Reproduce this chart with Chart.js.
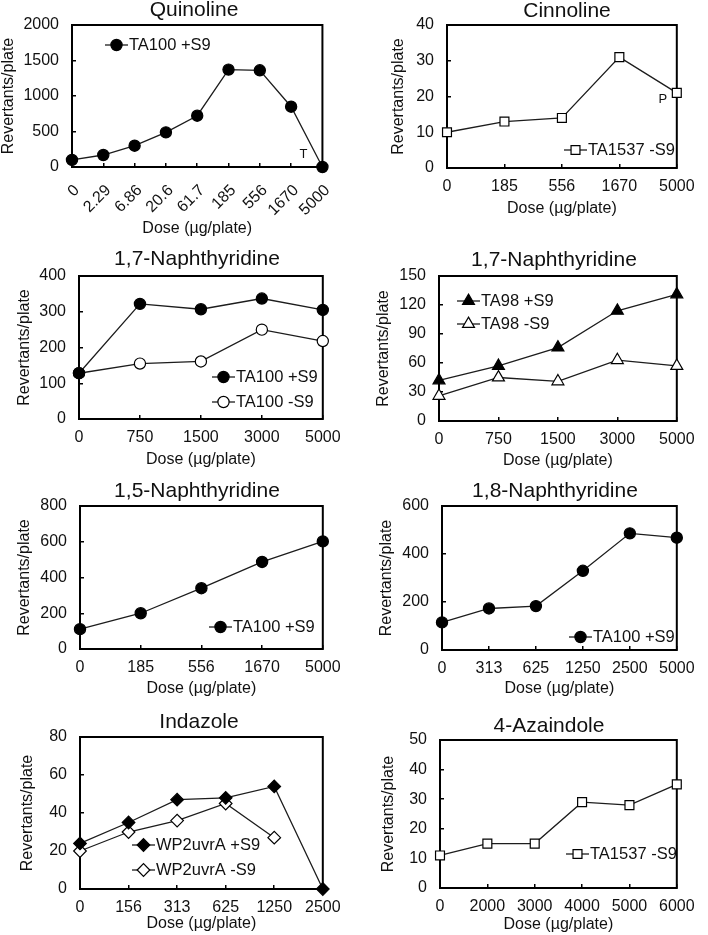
<!DOCTYPE html>
<html lang="en">
<head>
<meta charset="UTF-8">
<script src="https://cdn.jsdelivr.net/npm/chart.js@4.4.0/dist/chart.umd.min.js"></script>
<title>Revertants per plate</title>
<style>
  body { margin: 0; background: #fff; }
  #wrap { position: relative; width: 708px; height: 935px; overflow: hidden; background: #fff; }
  #wrap canvas { position: absolute; }
</style>
</head>
<body>
<div id="wrap"></div>
<script>
// ---- values ----
var quinolineDoses = ['0', '2.29', '6.86', '20.6', '61.7', '185', '556', '1670', '5000'];
var quinolineTA100S9 = [99, 169, 300, 488, 722, 1372, 1362, 849, 0];

var cinnolineDoses = ['0', '185', '556', '1670', '5000'];
var cinnolineTA1537 = [10, 13, 14, 31, 21];

var n17Doses = ['0', '750', '1500', '3000', '5000'];
var n17TA100Plus = [128, 322, 307, 337, 305];
var n17TA100Minus = [128, 155, 161, 250, 218];
var n17TA98Plus = [42, 57, 76, 114, 131];
var n17TA98Minus = [26, 45, 41, 63, 57];

var n15Doses = ['0', '185', '556', '1670', '5000'];
var n15TA100S9 = [111, 200, 340, 487, 602];

var n18Doses = ['0', '313', '625', '1250', '2500', '5000'];
var n18TA100S9 = [115, 173, 183, 330, 486, 468];

var indazoleDoses = ['0', '156', '313', '625', '1250', '2500'];
var indazolePlus = [24, 35, 47, 48, 54, 0];
var indazoleMinus = [20, 30, 36, 45, 27, null];

var azaDoses = ['0', '2000', '3000', '4000', '5000', '6000'];
var azaTA1537 = [11, 15, 15, 29, 28, 35];

// ---- panels (box = plot frame in page pixels) ----
var panels = [
  { title: 'Quinoline', labels: quinolineDoses, yMax: 2000, yStep: 500, rotate: 45, xPad: 18, xShift: 5,
    sets: [{ label: 'TA100 +S9', data: quinolineTA100S9, marker: 'circle', filled: true }],
    box: [72, 25, 329, 167], titleX: 194, titleY: 10, yTitleX: 9, xTitleY: 229,
    legend: { x: 105, y: 45, gap: 0 }, notes: [{ at: '5000', v: 0, text: 'T', dx: -19, dy: -13 }] },
  { title: 'Cinnoline', labels: cinnolineDoses, yMax: 40, yStep: 10,
    sets: [{ label: 'TA1537 -S9', data: cinnolineTA1537, marker: 'rect', filled: false }],
    box: [447, 25, 687, 168], titleX: 567, titleY: 11, yTitleX: 399, xTitleY: 209,
    legend: { x: 564, y: 150, gap: 0 }, notes: [{ at: '5000', v: 21, text: 'P', dx: -14, dy: 6 }] },
  { title: '1,7-Naphthyridine', labels: n17Doses, yMax: 400, yStep: 100,
    sets: [{ label: 'TA100 +S9', data: n17TA100Plus, marker: 'circle', filled: true },
           { label: 'TA100 -S9', data: n17TA100Minus, marker: 'circle', filled: false }],
    box: [79, 276, 329, 419], titleX: 197, titleY: 259, yTitleX: 25, xTitleY: 460,
    legend: { x: 212, y: 377, gap: 25 } },
  { title: '1,7-Naphthyridine', labels: n17Doses, yMax: 150, yStep: 30,
    sets: [{ label: 'TA98 +S9', data: n17TA98Plus, marker: 'triangle', filled: true },
           { label: 'TA98 -S9', data: n17TA98Minus, marker: 'triangle', filled: false }],
    box: [439, 276, 689, 421], titleX: 554, titleY: 260, yTitleX: 384, xTitleY: 461,
    legend: { x: 457, y: 301, gap: 23 } },
  { title: '1,5-Naphthyridine', labels: n15Doses, yMax: 800, yStep: 200,
    sets: [{ label: 'TA100 +S9', data: n15TA100S9, marker: 'circle', filled: true }],
    box: [80, 506, 329, 649], titleX: 197, titleY: 491, yTitleX: 25, xTitleY: 689,
    legend: { x: 209, y: 627, gap: 0 } },
  { title: '1,8-Naphthyridine', labels: n18Doses, yMax: 600, yStep: 200,
    sets: [{ label: 'TA100 +S9', data: n18TA100S9, marker: 'circle', filled: true }],
    box: [442, 506, 687, 650], titleX: 555, titleY: 491, yTitleX: 387, xTitleY: 689,
    legend: { x: 569, y: 637, gap: 0 } },
  { title: 'Indazole', labels: indazoleDoses, yMax: 80, yStep: 20,
    sets: [{ label: 'WP2uvrA +S9', data: indazolePlus, marker: 'rectRot', filled: true },
           { label: 'WP2uvrA -S9', data: indazoleMinus, marker: 'rectRot', filled: false }],
    box: [80, 737, 329, 889], titleX: 199, titleY: 722, yTitleX: 28, xTitleY: 924,
    legend: { x: 132, y: 845, gap: 25 } },
  { title: '4-Azaindole', labels: azaDoses, yMax: 50, yStep: 10,
    sets: [{ label: 'TA1537 -S9', data: azaTA1537, marker: 'rect', filled: false }],
    box: [440, 740, 689, 888], titleX: 549, titleY: 726, yTitleX: 389, xTitleY: 925,
    legend: { x: 566, y: 854, gap: 0 } }
];

var FONT = '"Liberation Sans", Arial, sans-serif';
Chart.defaults.font.family = FONT;
Chart.defaults.color = '#111';

var markerSize = { circle: 5.6, rect: 6.3, triangle: 6.9, rectRot: 6.3 };

function makeDataset(s) {
  return {
    label: s.label,
    data: s.data,
    borderColor: '#1c1c1c',
    borderWidth: 1.3,
    pointStyle: s.marker,
    pointRadius: markerSize[s.marker],
    pointHoverRadius: markerSize[s.marker],
    pointBackgroundColor: s.filled ? '#000' : '#fff',
    pointBorderColor: '#000',
    pointBorderWidth: 1.2,
    tension: 0,
    clip: false,
    spanGaps: false
  };
}

// frame round the plot area
var framePlugin = {
  id: 'frame',
  beforeDatasetsDraw: function (chart) {
    var a = chart.chartArea, ctx = chart.ctx;
    ctx.save();
    ctx.strokeStyle = '#000';
    ctx.lineWidth = 2;
    ctx.strokeRect(a.left, a.top, a.right - a.left, a.bottom - a.top);
    ctx.restore();
  }
};

var panelTitle = {
  id: 'panelTitle',
  afterDraw: function (chart, args, o) {
    var ctx = chart.ctx;
    ctx.save();
    ctx.font = '21px ' + FONT;
    ctx.fillStyle = '#111';
    ctx.textAlign = 'center';
    ctx.textBaseline = 'middle';
    ctx.fillText(o.text, o.x, o.y);
    ctx.restore();
  }
};

// excel-like legend: short line, marker, label
var sampleLegend = {
  id: 'sampleLegend',
  afterDraw: function (chart, args, o) {
    var ctx = chart.ctx;
    chart.data.datasets.forEach(function (ds, i) {
      var x = o.x, y = o.y + i * o.gap;
      ctx.save();
      ctx.strokeStyle = ds.borderColor;
      ctx.lineWidth = ds.borderWidth;
      ctx.beginPath();
      ctx.moveTo(x, y);
      ctx.lineTo(x + 23, y);
      ctx.stroke();
      ctx.fillStyle = ds.pointBackgroundColor;
      ctx.strokeStyle = ds.pointBorderColor;
      ctx.lineWidth = ds.pointBorderWidth;
      Chart.helpers.drawPoint(ctx, { pointStyle: ds.pointStyle, radius: ds.pointRadius, borderWidth: ds.pointBorderWidth, rotation: 0 }, x + 11.5, y);
      ctx.fillStyle = '#111';
      ctx.font = '16.5px ' + FONT;
      ctx.textAlign = 'left';
      ctx.textBaseline = 'middle';
      ctx.fillText(ds.label, x + 24, y);
      ctx.restore();
    });
  }
};

var notesPlugin = {
  id: 'notes',
  afterDatasetsDraw: function (chart, args, o) {
    var ctx = chart.ctx;
    (o.items || []).forEach(function (n) {
      var x = chart.scales.x.getPixelForValue(chart.data.labels.indexOf(n.at));
      var y = chart.scales.y.getPixelForValue(n.v);
      ctx.save();
      ctx.font = '13px ' + FONT;
      ctx.fillStyle = '#111';
      ctx.textAlign = 'center';
      ctx.textBaseline = 'middle';
      ctx.fillText(n.text, x + n.dx, y + n.dy);
      ctx.restore();
    });
  }
};

var wrap = document.getElementById('wrap');

panels.forEach(function (p) {
  var colX = p.box[0] < 354 ? 0 : 354;
  var top = Math.round(p.titleY - 16);
  var bottom = Math.round(p.xTitleY + 12);
  var canvas = document.createElement('canvas');
  canvas.width = 354;
  canvas.height = bottom - top;
  canvas.style.left = colX + 'px';
  canvas.style.top = top + 'px';
  wrap.appendChild(canvas);

  var padLeft = p.yTitleX - colX - 8;
  var yWidth = p.box[0] - colX - padLeft;
  var xHeight = bottom - p.box[3];
  var rot = p.rotate || 0;

  var tickGrid = { display: true, drawOnChartArea: false, drawTicks: true, tickLength: -4, color: '#000', lineWidth: 1.5 };

  new Chart(canvas, {
    type: 'line',
    data: { labels: p.labels, datasets: p.sets.map(makeDataset) },
    options: {
      responsive: false,
      animation: false,
      devicePixelRatio: 1,
      layout: { padding: { left: padLeft, right: colX + 354 - p.box[2], top: p.box[1] - top, bottom: 0 } },
      plugins: {
        legend: { display: false },
        tooltip: { enabled: false },
        panelTitle: { text: p.title, x: p.titleX - colX, y: p.titleY - top },
        sampleLegend: { x: p.legend.x - colX, y: p.legend.y - top, gap: p.legend.gap },
        notes: { items: p.notes || [] }
      },
      scales: {
        x: {
          type: 'category',
          offset: false,
          grid: tickGrid,
          border: { display: false },
          ticks: { font: { size: 16 }, color: '#111', padding: p.xPad || 13.4, labelOffset: p.xShift || 0,
                   autoSkip: false, maxRotation: rot, minRotation: rot },
          title: { display: true, text: 'Dose (µg/plate)', font: { size: 16, lineHeight: 1 }, color: '#111', padding: { top: 0, bottom: 4 } },
          afterFit: function (s) { s.height = xHeight; }
        },
        y: {
          min: 0,
          max: p.yMax,
          grid: tickGrid,
          border: { display: false },
          ticks: { stepSize: p.yStep, font: { size: 16 }, color: '#111', padding: 17,
                   callback: function (v) { return String(v); } },
          title: { display: true, text: 'Revertants/plate', font: { size: 16, lineHeight: 1 }, color: '#111', padding: { top: 0, bottom: 0 } },
          afterFit: function (s) { s.width = yWidth; }
        }
      }
    },
    plugins: [framePlugin, panelTitle, sampleLegend, notesPlugin]
  });
});
</script>
</body>
</html>
